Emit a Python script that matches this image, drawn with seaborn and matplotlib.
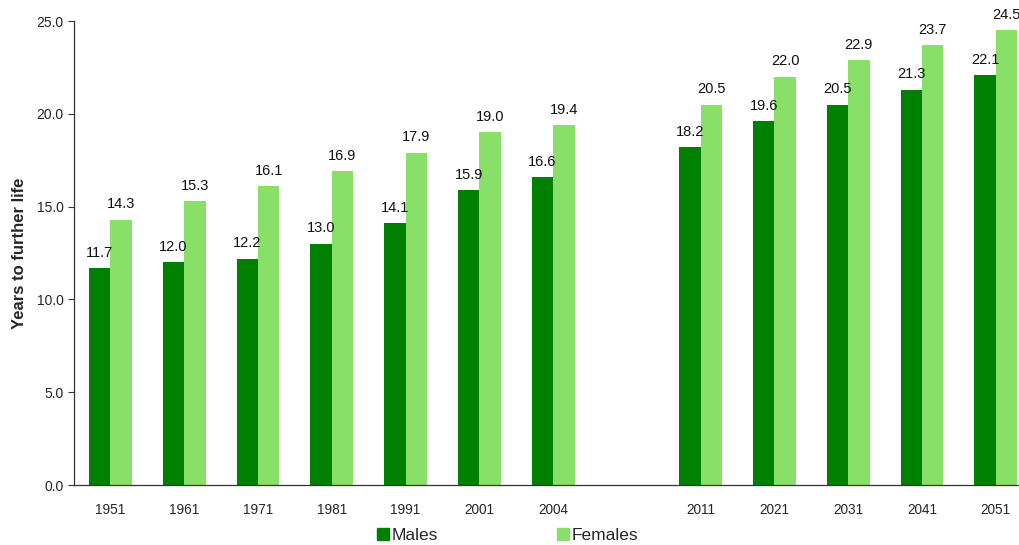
import matplotlib
matplotlib.use("Agg")
import matplotlib.pyplot as plt
from matplotlib.lines import Line2D
import seaborn as sns
import pandas as pd

years = ["1951", "1961", "1971", "1981", "1991", "2001", "2004",
         "2011", "2021", "2031", "2041", "2051"]
males = [11.7, 12.0, 12.2, 13.0, 14.1, 15.9, 16.6, 18.2, 19.6, 20.5, 21.3, 22.1]
females = [14.3, 15.3, 16.1, 16.9, 17.9, 19.0, 19.4, 20.5, 22.0, 22.9, 23.7, 24.5]
series = ["Males", "Females"]
colors = ["#008000", "#88E068"]

# blank slot separates the observed years from the projections
order = years[:7] + [" "] + years[7:]

df = pd.DataFrame({
    "Year": years * 2,
    "Value": males + females,
    "Sex": ["Males"] * len(years) + ["Females"] * len(years),
})

sns.set_theme(style="white")
plt.rcParams["font.family"] = ["Liberation Sans", "DejaVu Sans"]

fig = plt.figure(figsize=(10.19, 5.45), dpi=100)
ax = fig.add_axes([0.0722, 0.110, 0.9412, 0.8514])

sns.barplot(data=df, x="Year", y="Value", hue="Sex", order=order,
            hue_order=series, palette=colors, width=0.58, saturation=1,
            linewidth=0, ax=ax, legend=False)

for cont in ax.containers:
    ax.bar_label(cont, fmt="%.1f", padding=6, fontsize=10.5, color="#111111",
                 clip_on=False)

ax.set_ylim(0, 25)
ax.set_yticks([0, 5, 10, 15, 20, 25])
ax.set_yticklabels([f"{v:.1f}" for v in [0, 5, 10, 15, 20, 25]], fontsize=10)
ax.set_xlim(-0.5, len(order) - 0.5)
ax.tick_params(axis="x", length=0, pad=13, labelsize=9.8)
ax.tick_params(axis="y", length=4, width=0.8, color="#333333", left=True,
               direction="out", pad=3)
ax.set_xlabel("")
ax.set_ylabel("Years to further life", fontsize=12, fontweight="bold",
              labelpad=7)

for side in ["top", "right"]:
    ax.spines[side].set_visible(False)
for side in ["left", "bottom"]:
    ax.spines[side].set_color("#333333")
    ax.spines[side].set_linewidth(0.9)

handles = [Line2D([], [], marker="s", linestyle="", markersize=8.5,
                  markerfacecolor=c, markeredgecolor=c) for c in colors]
fig.legend(handles, series, loc="center", bbox_to_anchor=(0.497, 0.018),
           ncol=2, frameon=False, fontsize=12.5, handletextpad=0.05,
           columnspacing=6.75, handlelength=0.9)

fig.savefig("out.png", dpi=100)
